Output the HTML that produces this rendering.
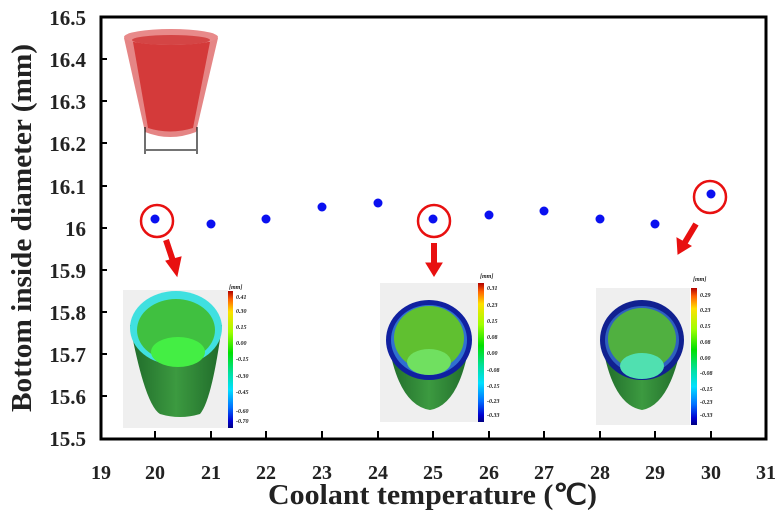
<!DOCTYPE html>
<html><head><meta charset="utf-8"><style>
body{margin:0;background:#fff}
svg{display:block}
text{font-family:"Liberation Serif",serif;font-weight:bold;fill:#222}
</style></head><body>
<svg width="783" height="521" viewBox="0 0 783 521">
<defs>
<linearGradient id="cb" x1="0" y1="0" x2="0" y2="1">
<stop offset="0" stop-color="#b00000"/><stop offset="0.06" stop-color="#ff6000"/><stop offset="0.15" stop-color="#ffe000"/><stop offset="0.3" stop-color="#a0ff00"/><stop offset="0.45" stop-color="#00e000"/><stop offset="0.6" stop-color="#00e0a0"/><stop offset="0.72" stop-color="#00e0ff"/><stop offset="0.85" stop-color="#0070ff"/><stop offset="0.95" stop-color="#0000d0"/><stop offset="1" stop-color="#000080"/>
</linearGradient>
<linearGradient id="body" x1="0" y1="0" x2="1" y2="0">
<stop offset="0" stop-color="#1f6a2a"/><stop offset="0.5" stop-color="#3c9a40"/><stop offset="1" stop-color="#1f6a2a"/>
</linearGradient>
</defs>
<!-- cup -->
<path d="M124 38 L145 132 Q170 142 196 132 L218 38 Z" fill="#e07070" opacity="0.85"/>
<path d="M133 42 L148 128 Q170 135 193 128 L210 42 Z" fill="#d43a3a"/>
<ellipse cx="171" cy="37" rx="47" ry="8" fill="#e88a8a"/>
<ellipse cx="171" cy="40" rx="39" ry="5" fill="#d44545"/>
<path d="M145 127 V154 M197 127 V154 M146 150 H196" stroke="#222" stroke-width="1.3"/>
<!-- insets -->
<g>
<rect x="123" y="290" width="105" height="138" fill="#efefef"/>
<path d="M130 325 Q145 405 160 414 Q180 420 200 414 Q212 400 222 325 Z" fill="url(#body)"/>
<ellipse cx="176" cy="328" rx="46" ry="37" fill="#40e0e0"/>
<ellipse cx="176" cy="330" rx="39" ry="31" fill="#40c040"/>
<ellipse cx="178" cy="352" rx="27" ry="15" fill="#44ee44"/>
<rect x="228" y="291" width="5" height="137" fill="url(#cb)"/>
</g>
<g>
<rect x="380" y="283" width="98" height="139" fill="#efefef"/>
<path d="M388 340 Q398 405 430 410 Q460 405 470 340 Z" fill="url(#body)"/>
<ellipse cx="429" cy="340" rx="43" ry="40" fill="#1020a0"/>
<ellipse cx="429" cy="340" rx="38" ry="35" fill="#3070d0"/>
<ellipse cx="429" cy="338" rx="35" ry="32" fill="#60c030"/>
<ellipse cx="429" cy="362" rx="22" ry="13" fill="#70e060"/>
<rect x="478" y="283" width="6" height="139" fill="url(#cb)"/>
</g>
<g>
<rect x="596" y="288" width="94" height="137" fill="#efefef"/>
<path d="M602 342 Q612 405 642 410 Q670 405 682 342 Z" fill="url(#body)"/>
<ellipse cx="642" cy="340" rx="42" ry="40" fill="#102090"/>
<ellipse cx="642" cy="340" rx="37" ry="34" fill="#2f60c0"/>
<ellipse cx="642" cy="339" rx="34" ry="31" fill="#50b040"/>
<ellipse cx="642" cy="366" rx="22" ry="13" fill="#50e0b0"/>
<rect x="691" y="288" width="6" height="137" fill="url(#cb)"/>
</g>
<g font-size="6" font-style="italic" style="font-family:'Liberation Serif',serif" fill="#333">
<text x="229" y="289">[mm]</text>
<text x="236" y="299">0.41</text><text x="236" y="313">0.30</text><text x="236" y="329">0.15</text><text x="236" y="345">0.00</text><text x="236" y="361">-0.15</text><text x="236" y="378">-0.30</text><text x="236" y="394">-0.45</text><text x="236" y="413">-0.60</text><text x="236" y="423">-0.70</text>
<text x="480" y="278">[mm]</text>
<text x="487" y="290">0.31</text><text x="487" y="307">0.23</text><text x="487" y="323">0.15</text><text x="487" y="339">0.08</text><text x="487" y="355">0.00</text><text x="487" y="372">-0.08</text><text x="487" y="388">-0.15</text><text x="487" y="403">-0.23</text><text x="487" y="417">-0.33</text>
<text x="693" y="281">[mm]</text>
<text x="700" y="297">0.29</text><text x="700" y="312">0.23</text><text x="700" y="328">0.15</text><text x="700" y="344">0.08</text><text x="700" y="360">0.00</text><text x="700" y="375">-0.08</text><text x="700" y="391">-0.15</text><text x="700" y="404">-0.23</text><text x="700" y="417">-0.33</text>
</g>
<!-- frame -->
<rect x="101" y="17" width="665" height="422" fill="none" stroke="#000" stroke-width="3"/>
<g stroke="#000" stroke-width="2">
<path d="M101 59h6M101 101h6M101 143h6M101 186h6M101 228h6M101 270h6M101 312h6M101 354h6M101 396h6"/>
<path d="M155 439v-8M211 439v-8M266 439v-8M322 439v-8M378 439v-8M433 439v-8M489 439v-8M544 439v-8M600 439v-8M655 439v-8M711 439v-8"/>
</g>
<g font-size="21" text-anchor="end">
<text x="86" y="25">16.5</text><text x="86" y="67">16.4</text><text x="86" y="109">16.3</text><text x="86" y="151">16.2</text><text x="86" y="194">16.1</text><text x="86" y="236">16</text><text x="86" y="278">15.9</text><text x="86" y="320">15.8</text><text x="86" y="362">15.7</text><text x="86" y="404">15.6</text><text x="86" y="446">15.5</text>
</g>
<g font-size="20" text-anchor="middle">
<text x="101" y="479">19</text><text x="155" y="479">20</text><text x="211" y="479">21</text><text x="266" y="479">22</text><text x="322" y="479">23</text><text x="378" y="479">24</text><text x="433" y="479">25</text><text x="489" y="479">26</text><text x="544" y="479">27</text><text x="600" y="479">28</text><text x="655" y="479">29</text><text x="711" y="479">30</text><text x="766" y="479">31</text>
</g>
<text x="268" y="504" font-size="28" textLength="329" lengthAdjust="spacingAndGlyphs">Coolant temperature (℃)</text>
<text transform="translate(31,228) rotate(-90)" font-size="28" text-anchor="middle" textLength="368" lengthAdjust="spacingAndGlyphs">Bottom inside diameter (mm)</text>
<!-- data -->
<g fill="#0a10f0">
<circle cx="155" cy="219" r="4.5"/><circle cx="211" cy="224" r="4.5"/><circle cx="266" cy="219" r="4.5"/><circle cx="322" cy="207" r="4.5"/><circle cx="378" cy="203" r="4.5"/><circle cx="433" cy="219" r="4.5"/><circle cx="489" cy="215" r="4.5"/><circle cx="544" cy="211" r="4.5"/><circle cx="600" cy="219" r="4.5"/><circle cx="655" cy="224" r="4.5"/><circle cx="711" cy="194" r="4.5"/>
</g>
<g fill="none" stroke="#e81010" stroke-width="2.5">
<circle cx="157" cy="221" r="16"/><circle cx="434" cy="221" r="16"/><circle cx="710" cy="197" r="16"/>
</g>
<g fill="#e81010" stroke="#e81010">
<path d="M166 240 L174 264" stroke-width="6"/><path d="M166 261 L181 257 L177 276 Z"/>
<path d="M434 243 V265" stroke-width="6"/><path d="M426 263 H442 L434 276 Z"/>
<path d="M696 224 L684 244" stroke-width="6"/><path d="M677 238 L691 246 L678 254 Z"/>
</g>
</svg>
</body></html>
